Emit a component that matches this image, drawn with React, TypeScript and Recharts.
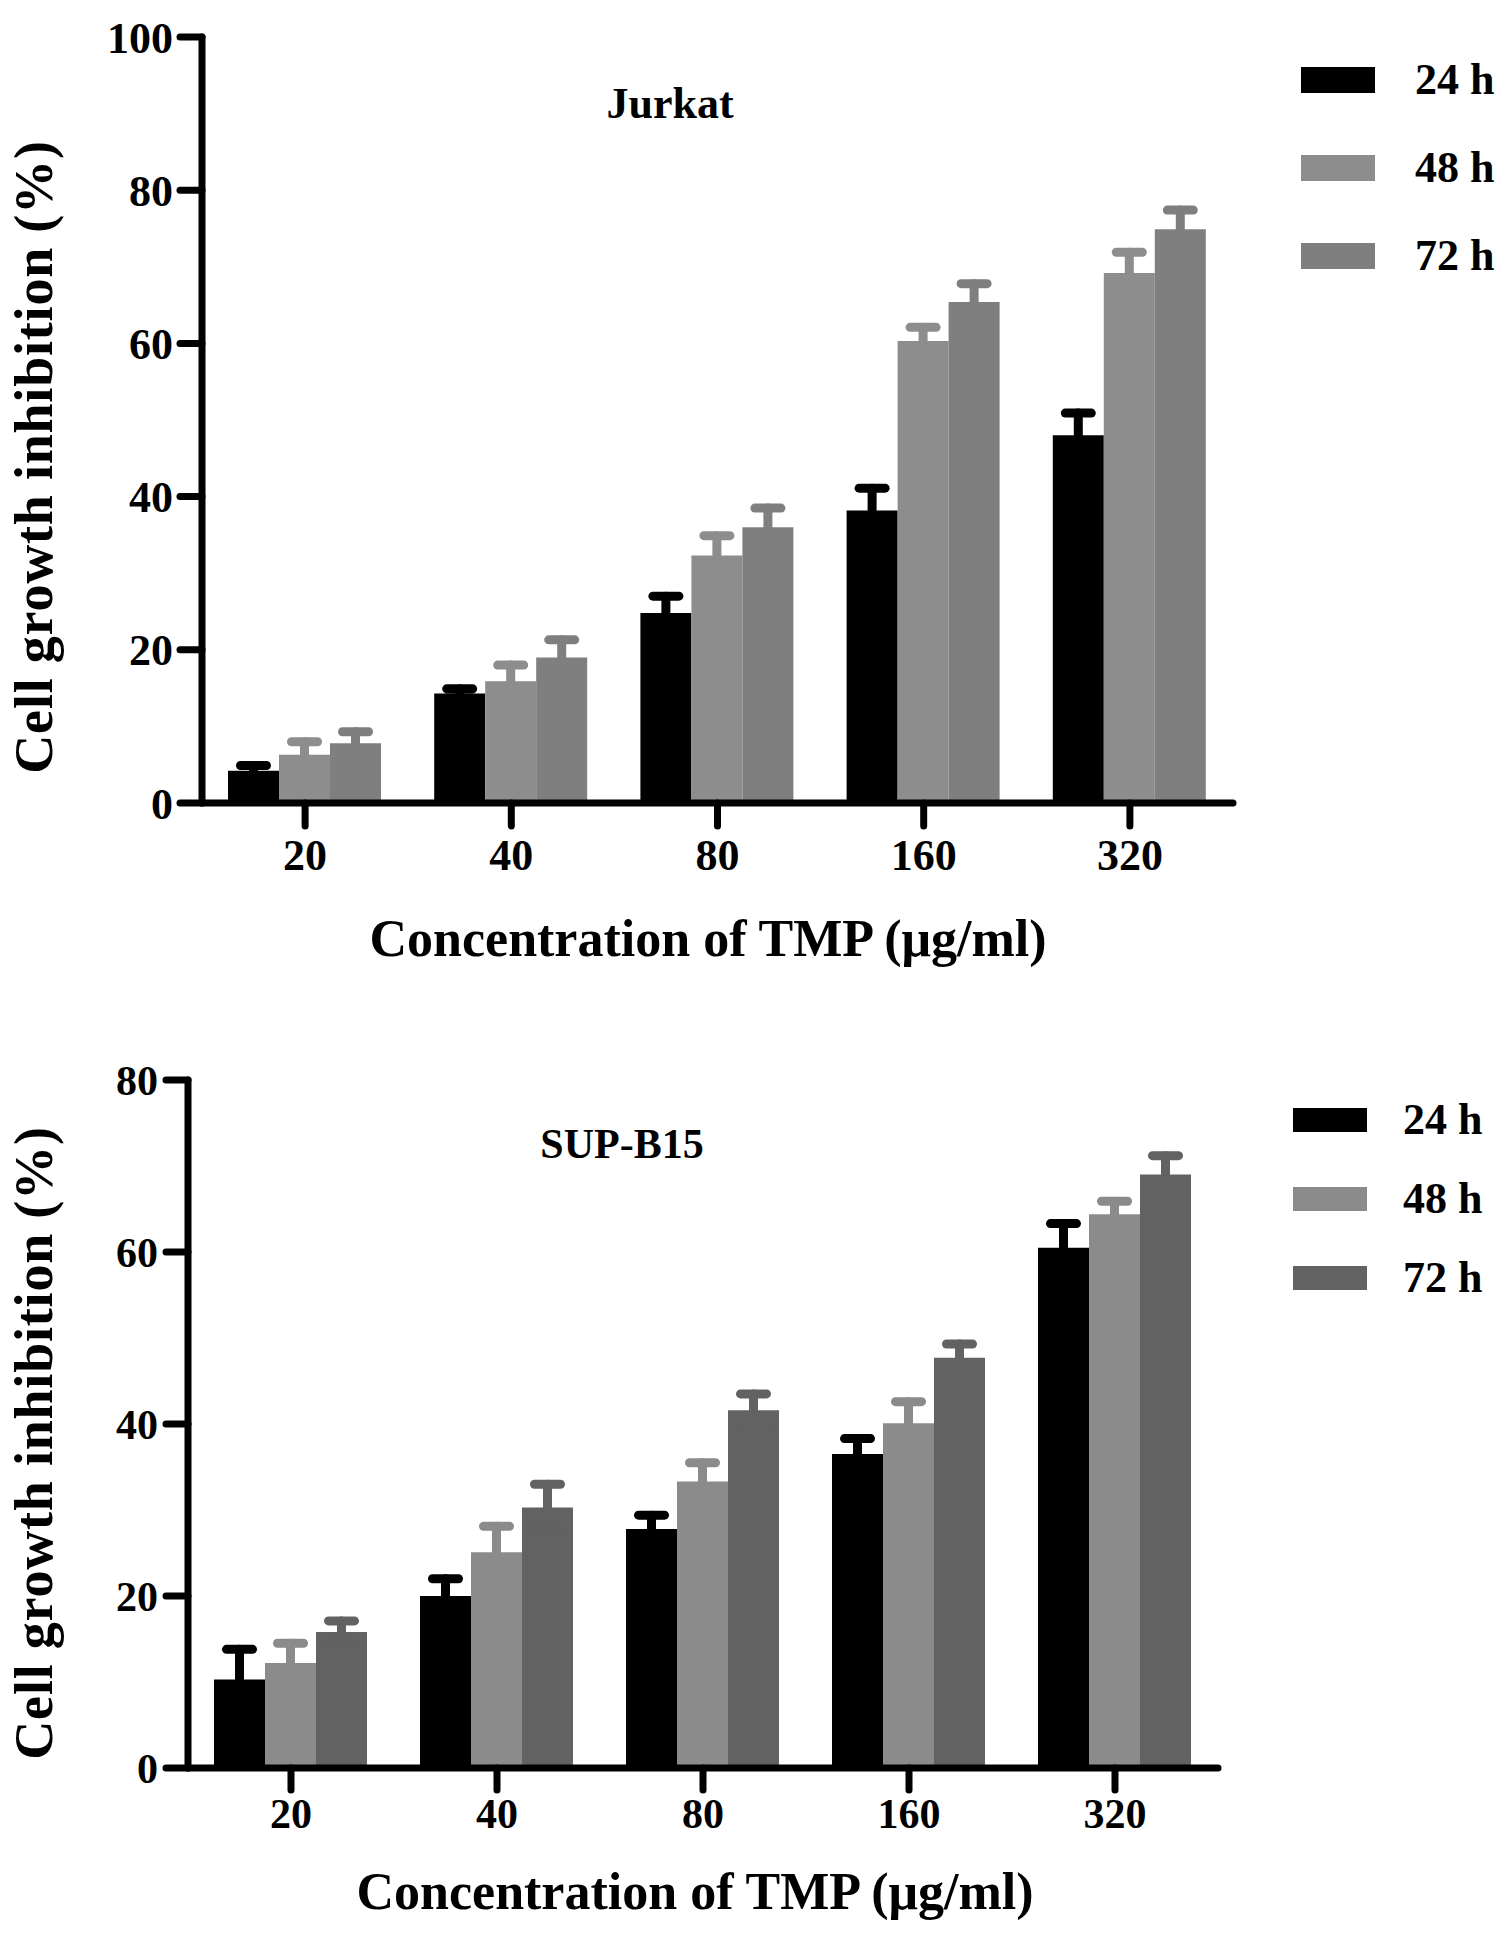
import React from 'react';
import { BarChart, Bar, XAxis, YAxis, ErrorBar, Legend, Label, Customized } from 'recharts';

const concentrations = ['20', '40', '80', '160', '320'];
const seriesNames = ['24 h', '48 h', '72 h'];

// Jurkat
const jurkat24 = [4.2, 14.3, 24.8, 38.2, 48.0];
const jurkat24Err = [0.7, 0.6, 2.2, 2.9, 2.9];
const jurkat48 = [6.3, 15.9, 32.3, 60.3, 69.2];
const jurkat48Err = [1.7, 2.1, 2.6, 1.8, 2.7];
const jurkat72 = [7.8, 19.0, 36.0, 65.4, 74.9];
const jurkat72Err = [1.5, 2.3, 2.5, 2.4, 2.5];

// SUP-B15
const supb24 = [10.3, 20.0, 27.8, 36.5, 60.5];
const supb24Err = [3.5, 2.0, 1.6, 1.8, 2.8];
const supb48 = [12.2, 25.1, 33.3, 40.1, 64.4];
const supb48Err = [2.3, 3.0, 2.2, 2.5, 1.5];
const supb72 = [15.8, 30.3, 41.6, 47.7, 69.0];
const supb72Err = [1.3, 2.7, 1.9, 1.6, 2.2];

const jurkatTicks = [0, 20, 40, 60, 80, 100];
const supbTicks = [0, 20, 40, 60, 80];

const FONT = '"Liberation Serif", "Times New Roman", serif';

const buildRows = (v24: number[], e24: number[], v48: number[], e48: number[], v72: number[], e72: number[]) =>
  concentrations.map((c, i) => ({
    conc: c,
    h24: v24[i], h24Err: e24[i],
    h48: v48[i], h48Err: e48[i],
    h72: v72[i], h72Err: e72[i],
  }));

const jurkatRows = buildRows(jurkat24, jurkat24Err, jurkat48, jurkat48Err, jurkat72, jurkat72Err);
const supbRows = buildRows(supb24, supb24Err, supb48, supb48Err, supb72, supb72Err);

interface PanelProps {
  rows: any[];
  title: string;
  colors: string[];
  height: number;
  yMax: number;
  ticks: number[];
  margin: { top: number; right: number };
  yAxisWidth: number;
  xAxisHeight: number;
  tickFont: number;
  xTick: { size: number; margin: number };
  yTick: { size: number; margin: number };
  yTitle: { x: number; y: number; size: number };
  xTitle: { x: number; y: number; size: number };
  name: { x: number; y: number; size: number };
  legend: { left: number; top: number; boxH: number; step: number; gap: number; size: number };
}

function Panel(p: PanelProps) {
  const axisStroke = { stroke: '#000', strokeWidth: 7, strokeLinecap: 'round' as const };
  const tickStyle = { fontFamily: FONT, fontWeight: 'bold', fontSize: p.tickFont, fill: '#000' };

  const renderLegend = (props: any) => (
    <div>
      {props.payload.map((item: any) => (
        <div
          key={item.value}
          style={{ display: 'flex', alignItems: 'center', height: p.legend.boxH, marginBottom: p.legend.step - p.legend.boxH }}
        >
          <span style={{ display: 'inline-block', width: 74, height: p.legend.boxH, background: item.color }} />
          <span
            style={{
              marginLeft: p.legend.gap,
              fontFamily: FONT,
              fontWeight: 'bold',
              fontSize: p.legend.size,
              color: '#000',
              lineHeight: 1,
            }}
          >
            {item.value}
          </span>
        </div>
      ))}
    </div>
  );

  return (
    <BarChart
      width={1504}
      height={p.height}
      data={p.rows}
      margin={{ top: p.margin.top, right: p.margin.right, left: 0, bottom: 0 }}
      barCategoryGap={26}
      barGap={0}
    >
      <XAxis
        dataKey="conc"
        height={p.xAxisHeight}
        interval={0}
        tickSize={p.xTick.size}
        tickMargin={p.xTick.margin}
        tick={tickStyle}
        axisLine={axisStroke}
        tickLine={axisStroke}
      >
        <Label
          content={() => (
            <text
              x={p.xTitle.x}
              y={p.xTitle.y}
              textAnchor="middle"
              fontFamily={FONT}
              fontWeight="bold"
              fontSize={p.xTitle.size}
              fill="#000"
            >
              Concentration of TMP (μg/ml)
            </text>
          )}
        />
      </XAxis>
      <YAxis
        width={p.yAxisWidth}
        domain={[0, p.yMax]}
        ticks={p.ticks}
        interval={0}
        tickSize={p.yTick.size}
        tickMargin={p.yTick.margin}
        tick={tickStyle}
        axisLine={axisStroke}
        tickLine={axisStroke}
      >
        <Label
          content={() => (
            <text
              transform={`translate(${p.yTitle.x},${p.yTitle.y}) rotate(-90)`}
              textAnchor="middle"
              fontFamily={FONT}
              fontWeight="bold"
              fontSize={p.yTitle.size}
              letterSpacing={0.8}
              fill="#000"
            >
              Cell growth inhibition (%)
            </text>
          )}
        />
      </YAxis>
      <Legend
        layout="vertical"
        align="center"
        verticalAlign="middle"
        wrapperStyle={{ left: p.legend.left, top: p.legend.top, width: 220, height: 'auto' }}
        content={renderLegend}
      />
      <Bar dataKey="h24" name={seriesNames[0]} fill={p.colors[0]} isAnimationActive={false}>
        <ErrorBar dataKey="h24Err" direction="y" width={13} strokeWidth={9} stroke={p.colors[0]} strokeLinecap="round" />
      </Bar>
      <Bar dataKey="h48" name={seriesNames[1]} fill={p.colors[1]} isAnimationActive={false}>
        <ErrorBar dataKey="h48Err" direction="y" width={13} strokeWidth={9} stroke={p.colors[1]} strokeLinecap="round" />
      </Bar>
      <Bar dataKey="h72" name={seriesNames[2]} fill={p.colors[2]} isAnimationActive={false}>
        <ErrorBar dataKey="h72Err" direction="y" width={13} strokeWidth={9} stroke={p.colors[2]} strokeLinecap="round" />
      </Bar>
      <Customized
        component={() => (
          <text
            x={p.name.x}
            y={p.name.y}
            textAnchor="middle"
            fontFamily={FONT}
            fontWeight="bold"
            fontSize={p.name.size}
            fill="#000"
          >
            {p.title}
          </text>
        )}
      />
    </BarChart>
  );
}

export default function App() {
  return (
    <div style={{ width: 1504, marginLeft: -8, background: '#fff' }}>
      <div style={{ height: 1010 }}>
        <Panel
          rows={jurkatRows}
          title="Jurkat"
          colors={['#000000', '#8d8d8d', '#7f7f7f']}
          height={1010}
          yMax={100}
          ticks={jurkatTicks}
          margin={{ top: 29, right: 271 }}
          yAxisWidth={202}
          xAxisHeight={215}
          tickFont={44}
          xTick={{ size: 23, margin: 13 }}
          yTick={{ size: 22, margin: 7 }}
          yTitle={{ x: 52, y: 449, size: 54 }}
          xTitle={{ x: 708, y: 948, size: 52 }}
          name={{ x: 670, y: 110, size: 44 }}
          legend={{ left: 1301, top: 59, boxH: 26, step: 88, gap: 40, size: 44 }}
        />
      </div>
      <div style={{ height: 924 }}>
        <Panel
          rows={supbRows}
          title="SUP-B15"
          colors={['#000000', '#8b8b8b', '#626262']}
          height={924}
          yMax={80}
          ticks={supbTicks}
          margin={{ top: 62, right: 286 }}
          yAxisWidth={188}
          xAxisHeight={174}
          tickFont={42}
          xTick={{ size: 22, margin: 8 }}
          yTick={{ size: 22, margin: 8 }}
          yTitle={{ x: 52, y: 425, size: 54 }}
          xTitle={{ x: 695, y: 891, size: 52 }}
          name={{ x: 622, y: 140, size: 42 }}
          legend={{ left: 1293, top: 90, boxH: 24, step: 79, gap: 36, size: 44 }}
        />
      </div>
    </div>
  );
}
